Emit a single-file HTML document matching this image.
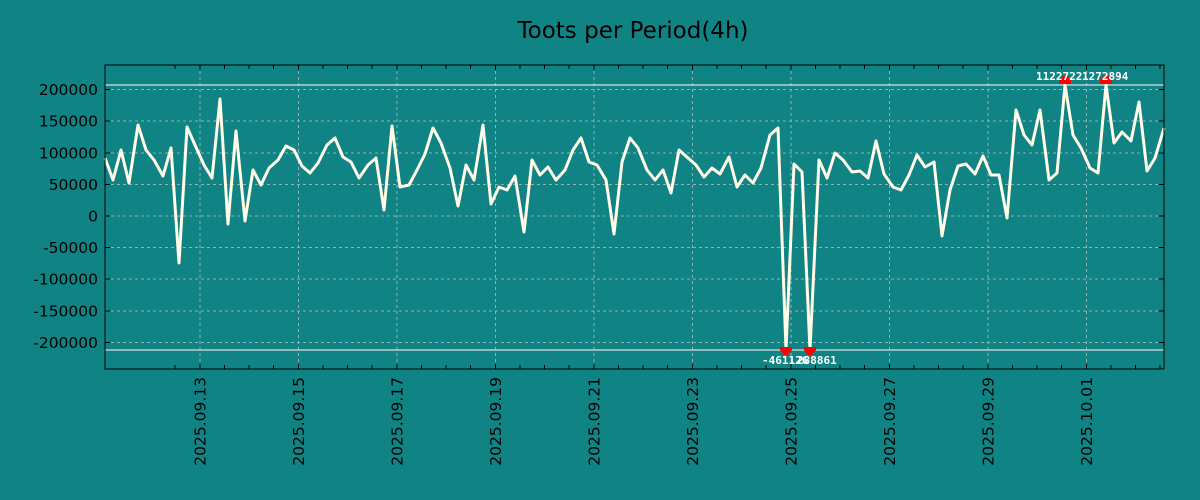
<!DOCTYPE html>
<html><head><meta charset="utf-8"><style>
html,body{margin:0;padding:0;background:#108385;}
svg{display:block;font-family:"DejaVu Sans","Liberation Sans",sans-serif;}
</style></head><body>
<svg width="1200" height="500" viewBox="0 0 1200 500">
<rect width="1200" height="500" fill="#108385"/>
<text x="633" y="38" font-size="23" text-anchor="middle" fill="#000">Toots per Period(4h)</text>
<g stroke="#b4b4b4" stroke-width="1" stroke-dasharray="3,3" opacity="0.85">
<line x1="105" x2="1164" y1="89.5" y2="89.5"/><line x1="105" x2="1164" y1="121" y2="121"/><line x1="105" x2="1164" y1="153" y2="153"/><line x1="105" x2="1164" y1="184.5" y2="184.5"/><line x1="105" x2="1164" y1="216" y2="216"/><line x1="105" x2="1164" y1="247.5" y2="247.5"/><line x1="105" x2="1164" y1="279" y2="279"/><line x1="105" x2="1164" y1="311" y2="311"/><line x1="105" x2="1164" y1="342.5" y2="342.5"/>
<line y1="65" y2="369" x1="200" x2="200"/><line y1="65" y2="369" x1="298.5" x2="298.5"/><line y1="65" y2="369" x1="397" x2="397"/><line y1="65" y2="369" x1="495.5" x2="495.5"/><line y1="65" y2="369" x1="594" x2="594"/><line y1="65" y2="369" x1="692.5" x2="692.5"/><line y1="65" y2="369" x1="791" x2="791"/><line y1="65" y2="369" x1="889.5" x2="889.5"/><line y1="65" y2="369" x1="988" x2="988"/><line y1="65" y2="369" x1="1086.5" x2="1086.5"/>
</g>
<line x1="105" x2="1164" y1="85" y2="85" stroke="#dddddd" stroke-width="1.2"/>
<line x1="105" x2="1164" y1="350" y2="350" stroke="#dddddd" stroke-width="1.2"/>
<polyline fill="none" stroke="#fffbe6" stroke-width="3" stroke-linejoin="round" points="105,158 113,180 121,150 129,183 138,125 146,150 154,160 163,176 171,148 179,263 187,127 195,145 204,165 212,178 220,99 228,224 236,131 245,221 253,170 261,185 269,168 278,160 286,146 294,150 302,166 310,173 318,163 327,145 335,138 343,157 351,162 359,178 368,165 376,158 384,210 392,126 400,187 409,185 417,170 425,154 433,128 441,143 450,168 458,206 466,165 474,180 483,125 491,204 499,187 507,190 515,176 524,232 532,160 540,175 548,167 556,180 565,170 573,150 581,138 589,162 597,165 606,180 614,234 622,162 630,138 638,148 647,170 655,180 663,170 671,193 679,150 688,158 696,165 704,177 712,168 720,174 729,157 737,187 745,175 753,183 761,168 770,135 778,128 786,350 794,164 802,172 810,350 819,160 827,178 835,153 843,160 852,172 860,171 868,178 876,141 884,174 893,187 901,190 909,175 917,155 925,167 934,162 942,236 950,190 958,166 966,164 975,174 983,156 991,175 999,175 1007,218 1016,110 1024,135 1032,145 1040,110 1049,180 1057,173 1065,85 1073,135 1081,148 1090,168 1098,173 1106,85 1114,143 1122,132 1131,141 1139,102 1147,171 1155,158 1164,128"/>
<g fill="#ff0000">
<polygon points="780,347 792,347 792,350 788,355 784,355 780,350"/><polygon points="804,347 816,347 816,350 812,355 808,355 804,350"/>
<polygon points="1059,84 1071,84 1071,80 1067,76 1063,76 1059,80"/><polygon points="1100,84 1112,84 1112,80 1108,76 1104,76 1100,80"/>
</g>
<g fill="#fff" font-size="11" font-weight="bold" font-family="'DejaVu Sans Mono','Liberation Mono',monospace">
<text x="762" y="364">-461126</text><text x="797" y="364">288861</text>
<text x="1036" y="80">1122722</text><text x="1082" y="80">1272894</text>
</g>
<rect x="105" y="65" width="1059" height="304" fill="none" stroke="#000" stroke-width="1"/>
<g stroke="#000" stroke-width="1">
<path d="M175,369v-4M200,369v-5M224.5,369v-4M249,369v-4M273.5,369v-4M298.5,369v-5M323,369v-4M347.5,369v-4M372,369v-4M397,369v-5M421.5,369v-4M446,369v-4M470.5,369v-4M495.5,369v-5M520,369v-4M544.5,369v-4M569,369v-4M594,369v-5M618.5,369v-4M643,369v-4M667.5,369v-4M692.5,369v-5M717,369v-4M741.5,369v-4M766,369v-4M791,369v-5M815.5,369v-4M840,369v-4M864.5,369v-4M889.5,369v-5M914,369v-4M938.5,369v-4M963,369v-4M988,369v-5M1012.5,369v-4M1037,369v-4M1061.5,369v-4M1086.5,369v-5M1111,369v-4M1135.5,369v-4M1160,369v-4"/>
<path d="M175,65v4M200,65v5M224.5,65v4M249,65v4M273.5,65v4M298.5,65v5M323,65v4M347.5,65v4M372,65v4M397,65v5M421.5,65v4M446,65v4M470.5,65v4M495.5,65v5M520,65v4M544.5,65v4M569,65v4M594,65v5M618.5,65v4M643,65v4M667.5,65v4M692.5,65v5M717,65v4M741.5,65v4M766,65v4M791,65v5M815.5,65v4M840,65v4M864.5,65v4M889.5,65v5M914,65v4M938.5,65v4M963,65v4M988,65v5M1012.5,65v4M1037,65v4M1061.5,65v4M1086.5,65v5M1111,65v4M1135.5,65v4M1160,65v4"/>
<path d="M105,89.5h5M105,121h5M105,153h5M105,184.5h5M105,216h5M105,247.5h5M105,279h5M105,311h5M105,342.5h5M1164,89.5h-5M1164,121h-5M1164,153h-5M1164,184.5h-5M1164,216h-5M1164,247.5h-5M1164,279h-5M1164,311h-5M1164,342.5h-5"/>
</g>
<g font-size="15.5" fill="#000" text-anchor="end">
<text x="98" y="95">200000</text><text x="98" y="126.5">150000</text><text x="98" y="158.5">100000</text><text x="98" y="190">50000</text><text x="98" y="221.5">0</text><text x="98" y="253">-50000</text><text x="98" y="284.5">-100000</text><text x="98" y="316.5">-150000</text><text x="98" y="348">-200000</text>
</g>
<g font-size="15.5" fill="#000" text-anchor="end">
<text transform="translate(205.5,377) rotate(-90)">2025.09.13</text>
<text transform="translate(304,377) rotate(-90)">2025.09.15</text>
<text transform="translate(402.5,377) rotate(-90)">2025.09.17</text>
<text transform="translate(501,377) rotate(-90)">2025.09.19</text>
<text transform="translate(599.5,377) rotate(-90)">2025.09.21</text>
<text transform="translate(698,377) rotate(-90)">2025.09.23</text>
<text transform="translate(796.5,377) rotate(-90)">2025.09.25</text>
<text transform="translate(895,377) rotate(-90)">2025.09.27</text>
<text transform="translate(993.5,377) rotate(-90)">2025.09.29</text>
<text transform="translate(1092,377) rotate(-90)">2025.10.01</text>
</g>
</svg>
</body></html>
